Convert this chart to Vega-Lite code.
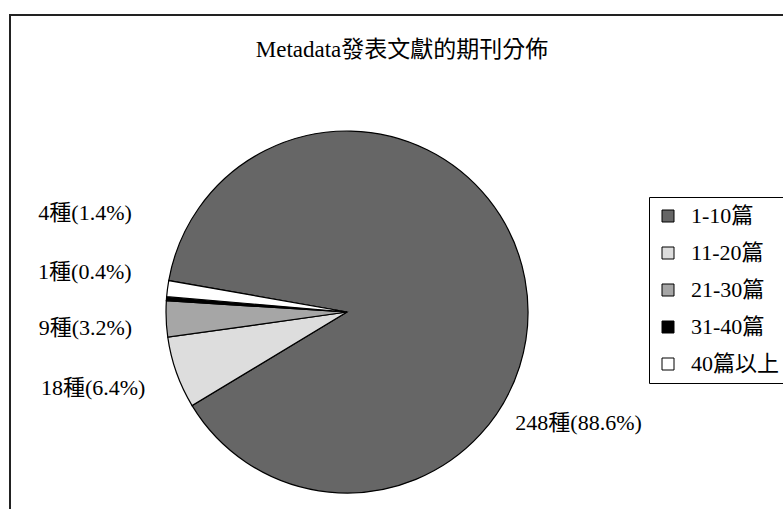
{
  "$schema": "https://vega.github.io/schema/vega-lite/v6.json",
  "autosize": "none",
  "width": 784,
  "height": 520,
  "padding": {"left": 10, "top": 15, "right": 0, "bottom": 0},
  "background": "#ffffff",
  "view": {"stroke": "#222222", "strokeWidth": 2, "fill": null},
  "config": {
    "font": "Liberation Serif, Noto Sans CJK TC"
  },
  "title": {
    "text": "Metadata發表文獻的期刊分佈",
    "fontSize": 23,
    "font": "Liberation Serif, Noto Sans CJK TC",
    "fontWeight": "normal",
    "color": "#000000",
    "anchor": "middle",
    "frame": "group",
    "baseline": "alphabetic",
    "offset": -44,
    "dy": 21
  },
  "data": {
    "values": [
      {"cat": "1-10篇", "n": 248, "k": 1, "label": "248種(88.6%)"},
      {"cat": "11-20篇", "n": 18, "k": 2, "label": "18種(6.4%)"},
      {"cat": "21-30篇", "n": 9, "k": 3, "label": "9種(3.2%)"},
      {"cat": "31-40篇", "n": 1, "k": 4, "label": "1種(0.4%)"},
      {"cat": "40篇以上", "n": 4, "k": 5, "label": "4種(1.4%)"}
    ]
  },
  "encoding": {
    "theta": {"field": "n", "type": "quantitative", "stack": true, "scale": {"range": [4.88692, 11.17011]}},
    "order": {"field": "k", "type": "quantitative"}
  },
  "layer": [
    {
      "mark": {"type": "arc", "outerRadius": 181, "stroke": "#000000", "strokeWidth": 1.2, "x": 337, "y": 297},
      "encoding": {
        "color": {
          "field": "cat",
          "type": "nominal",
          "scale": {
            "domain": ["1-10篇", "11-20篇", "21-30篇", "31-40篇", "40篇以上"],
            "range": ["#666666", "#dddddd", "#a6a6a6", "#000000", "#ffffff"]
          },
          "legend": {
            "title": null,
            "orient": "none",
            "legendX": 639,
            "legendY": 182,
            "symbolType": "square",
            "symbolSize": 144,
            "symbolStrokeColor": "#000000",
            "symbolStrokeWidth": 1,
            "symbolOpacity": 1,
            "labelFontSize": 22,
            "labelFont": "Liberation Serif, Noto Sans CJK TC",
            "labelColor": "#000000",
            "labelLimit": 300,
            "labelOffset": 12,
            "rowPadding": 15,
            "padding": 8,
            "strokeColor": "#000000",
            "fillColor": "#ffffff"
          }
        }
      }
    },
    {
      "mark": {"type": "text", "radius": 215, "x": 337, "y": 297, "align": "left", "baseline": "middle", "dx": -43, "dy": 150, "fontSize": 22, "color": "#000000"},
      "encoding": {"text": {"field": "label"}, "opacity": {"condition": {"test": "datum.k === 1", "value": 1}, "value": 0}}
    },
    {
      "mark": {"type": "text", "radius": 215, "x": 337, "y": 297, "align": "right", "baseline": "middle", "dx": 1, "dy": 4, "fontSize": 22, "color": "#000000"},
      "encoding": {"text": {"field": "label"}, "opacity": {"condition": {"test": "datum.k === 2", "value": 1}, "value": 0}}
    },
    {
      "mark": {"type": "text", "radius": 215, "x": 337, "y": 297, "align": "right", "baseline": "middle", "dx": 0, "dy": 8, "fontSize": 22, "color": "#000000"},
      "encoding": {"text": {"field": "label"}, "opacity": {"condition": {"test": "datum.k === 3", "value": 1}, "value": 0}}
    },
    {
      "mark": {"type": "text", "radius": 215, "x": 337, "y": 297, "align": "right", "baseline": "middle", "dx": -1, "dy": -24, "fontSize": 22, "color": "#000000"},
      "encoding": {"text": {"field": "label"}, "opacity": {"condition": {"test": "datum.k === 4", "value": 1}, "value": 0}}
    },
    {
      "mark": {"type": "text", "radius": 215, "x": 337, "y": 297, "align": "right", "baseline": "middle", "dx": -2, "dy": -71, "fontSize": 22, "color": "#000000"},
      "encoding": {"text": {"field": "label"}, "opacity": {"condition": {"test": "datum.k === 5", "value": 1}, "value": 0}}
    }
  ]
}
